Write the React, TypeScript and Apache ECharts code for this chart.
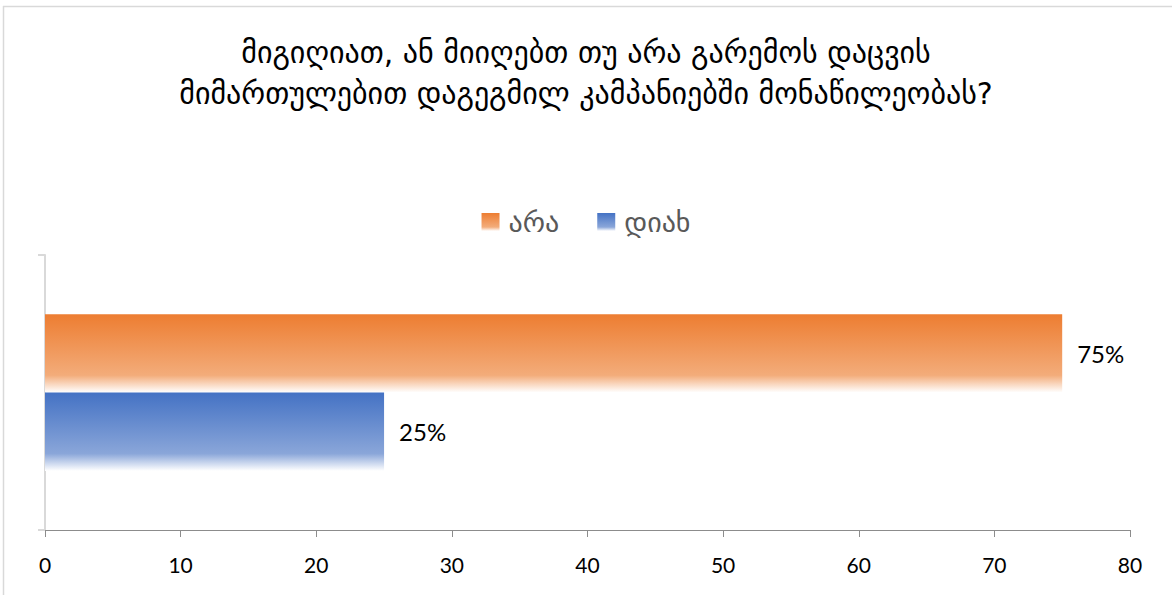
import React, { useEffect, useRef } from "react";
import * as echarts from "echarts";

const titleText = "მიგიღიათ, ან მიიღებთ თუ არა გარემოს დაცვის\nმიმართულებით დაგეგმილ კამპანიებში მონაწილეობას?";
const categories = [""];
const seriesNames = ["არა", "დიახ"];
const seriesValues = [[75], [25]];
const xTicks = { min: 0, max: 80, interval: 10 };

const grad = (top: string, mid: string) =>
  new echarts.graphic.LinearGradient(0, 0, 0, 1, [
    { offset: 0, color: top },
    { offset: 0.78, color: mid },
    { offset: 1, color: "#ffffff" },
  ]);

export default function App() {
  const ref = useRef<HTMLDivElement>(null);
  useEffect(() => {
    document.body.style.margin = "0";
    const chart = echarts.init(ref.current!, null, { renderer: "svg" });
    const colors = [grad("#ED7D31", "#F3AC7A"), grad("#4472C4", "#8AA6D9")];
    chart.setOption({
      animation: false,
      backgroundColor: "#ffffff",
      title: {
        text: titleText,
        left: "center",
        top: 27,
        textStyle: {
          fontFamily: "DejaVu Sans",
          fontSize: 30,
          fontWeight: "normal",
          color: "#000000",
          lineHeight: 41,
        },
      },
      legend: {
        data: seriesNames,
        left: "center",
        top: 203,
        itemWidth: 18,
        itemHeight: 18,
        itemGap: 38,
        icon: "rect",
        textStyle: { fontFamily: "DejaVu Sans", fontSize: 28, color: "#595959", padding: [0, 0, 0, 4] },
      },
      graphic: [
        { type: "line", shape: { x1: 3, y1: 6.5, x2: 1172, y2: 6.5 }, style: { stroke: "#D9D9D9", lineWidth: 1.5 } },
        { type: "line", shape: { x1: 3.5, y1: 6, x2: 3.5, y2: 595 }, style: { stroke: "#D9D9D9", lineWidth: 1.5 } },
      ],
      grid: { left: 45, right: 42, top: 255, bottom: 65 },
      xAxis: {
        type: "value",
        min: xTicks.min,
        max: xTicks.max,
        interval: xTicks.interval,
        axisLine: { show: true, lineStyle: { color: "#8C8C8C", width: 1 } },
        axisTick: { show: true, length: 7, lineStyle: { color: "#8C8C8C" } },
        splitLine: { show: false },
        axisLabel: { color: "#000000", fontSize: 21, fontFamily: "Lato", margin: 24 },
      },
      yAxis: {
        type: "category",
        data: categories,
        axisLine: { show: true, lineStyle: { color: "#D9D9D9", width: 2 } },
        axisTick: { show: true, length: 7, interval: 0, lineStyle: { color: "#D9D9D9", width: 2 } },
        axisLabel: { show: false },
      },
      series: seriesNames.map((name, i) => ({
        name,
        type: "bar",
        data: seriesValues[i],
        barGap: "0%",
        barCategoryGap: "43%",
        itemStyle: { color: colors[i] },
        label: {
          show: true,
          position: "right",
          distance: 15,
          formatter: "{c}%",
          color: "#000000",
          fontSize: 24,
          fontFamily: "Lato",
        },
      })),
    });
    return () => chart.dispose();
  }, []);
  return <div ref={ref} style={{ width: 1172, height: 595 }} />;
}
